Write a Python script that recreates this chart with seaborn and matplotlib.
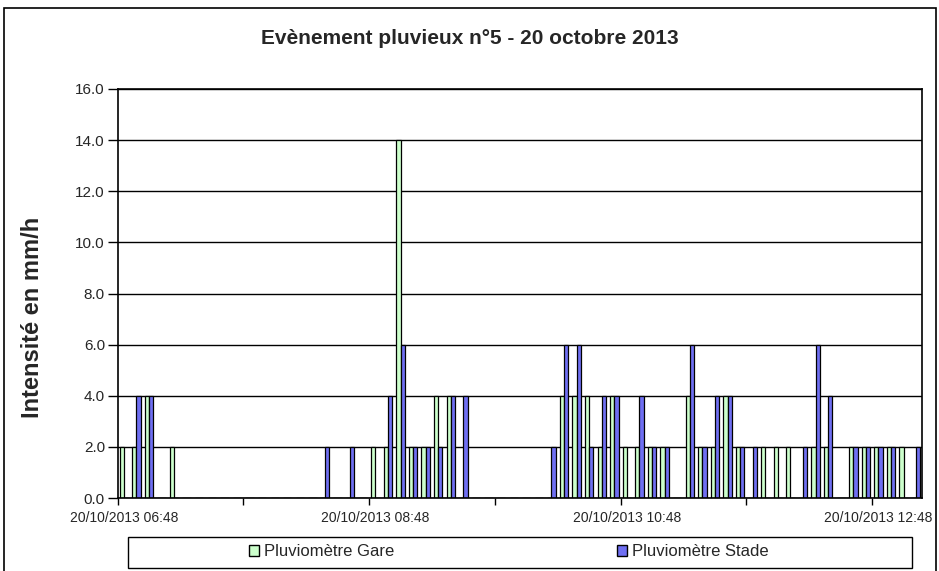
import pandas as pd
import matplotlib
matplotlib.use("Agg")
import matplotlib.pyplot as plt
import matplotlib.patches as mpatches
import seaborn as sns

# pas de temps de 6 minutes a partir de 06:48
start = pd.Timestamp("2013-10-20 06:48")
step_min = 6

gare = [2, 2, 4, 0, 2, 0, 0, 0, 0, 0,
        0, 0, 0, 0, 0, 0, 0, 0, 0, 0,
        2, 2, 14, 2, 2, 4, 4, 0, 0, 0,
        0, 0, 0, 0, 0, 4, 4, 4, 2, 4,
        2, 2, 2, 2, 0, 4, 2, 2, 4, 2,
        0, 2, 2, 2, 0, 2, 2, 0, 2, 2,
        2, 2, 2, 0]
stade = [0, 4, 4, 0, 0, 0, 0, 0, 0, 0,
         0, 0, 0, 0, 0, 0, 2, 0, 2, 0,
         0, 4, 6, 2, 2, 2, 4, 4, 0, 0,
         0, 0, 0, 0, 2, 6, 6, 2, 4, 4,
         0, 4, 2, 2, 0, 6, 2, 4, 4, 2,
         2, 0, 0, 0, 2, 6, 4, 0, 2, 2,
         2, 2, 0, 2]

series = ["Pluviomètre Gare", "Pluviomètre Stade"]
colors = ["#ccffcc", "#6f6ff2"]
y_ticks = [0, 2, 4, 6, 8, 10, 12, 14, 16]

times = [(start + pd.Timedelta(minutes=step_min * i)).strftime("%d/%m/%Y %H:%M")
         for i in range(len(gare))]

df = pd.DataFrame({
    "Heure": times * 2,
    "Pluviomètre": [series[0]] * len(gare) + [series[1]] * len(stade),
    "Intensité": gare + stade,
})

sns.set_theme(style="white")
plt.rcParams["font.family"] = ["Liberation Sans", "DejaVu Sans"]

fig = plt.figure(figsize=(9.39, 5.71), dpi=100)
ax = fig.add_axes([117.5 / 939, 1 - 498 / 571, 805 / 939, 409 / 571])

sns.barplot(data=df, x="Heure", y="Intensité", hue="Pluviomètre",
            order=times, hue_order=series, palette=colors, saturation=1,
            width=2 / 3, dodge=True, errorbar=None, edgecolor="black",
            linewidth=0.9, legend=False, ax=ax)

ax.set_xlim(-0.5, len(times) - 0.5)
ax.set_ylim(0, 16)
ax.set_yticks(y_ticks)
ax.set_yticklabels([f"{v:.1f}" for v in y_ticks], fontsize=11)
ax.yaxis.grid(True, color="black", linewidth=1.0)
ax.set_axisbelow(True)

# graduations toutes les heures, etiquettes toutes les 2 heures
ax.set_xticks([i - 0.5 for i in range(0, len(times) + 1, 10)])
ax.set_xticklabels([])
lab_pos = list(range(0, len(times), 20))
ax.set_xticks(lab_pos, minor=True)
ax.set_xticklabels([times[i] for i in lab_pos], minor=True, fontsize=10)
ax.tick_params(axis="x", which="major", direction="out", length=5, width=1, color="black", bottom=True)
ax.tick_params(axis="x", which="minor", length=0, pad=9)
ax.tick_params(axis="y", direction="out", length=7, width=1, color="black", left=True, pad=2)
ax.set_xlabel("")
ax.set_ylabel("")
for sp in ax.spines.values():
    sp.set_color("black")
    sp.set_linewidth(1.2)

fig.text(0.5, 1 - 38 / 571, "Evènement pluvieux n°5 - 20 octobre 2013",
         ha="center", va="center", fontsize=15, fontweight="bold")
fig.text(33 / 939, 1 - 317 / 571, "Intensité en mm/h", rotation=90,
         ha="center", va="center", fontsize=17, fontweight="bold")

# cadre exterieur et cadre de legende
fig.patches.append(mpatches.Rectangle((4 / 939, -0.2), 932 / 939, 1.2 - 8 / 571,
                                      transform=fig.transFigure, fill=False,
                                      edgecolor="black", linewidth=1.2))
fig.patches.append(mpatches.Rectangle((128 / 939, 1 - 568 / 571), 784 / 939, 31 / 571,
                                      transform=fig.transFigure, fill=False,
                                      edgecolor="black", linewidth=1.0))
handles = [mpatches.Patch(facecolor=c, edgecolor="black", linewidth=1.0) for c in colors]
fig.legend(handles, series, ncol=2, loc="center", bbox_to_anchor=(509 / 939, 1 - 552 / 571),
           frameon=False, fontsize=12, handlelength=0.6, handleheight=0.6,
           handletextpad=0.3, columnspacing=13.4)

fig.savefig("out.png", dpi=100)
